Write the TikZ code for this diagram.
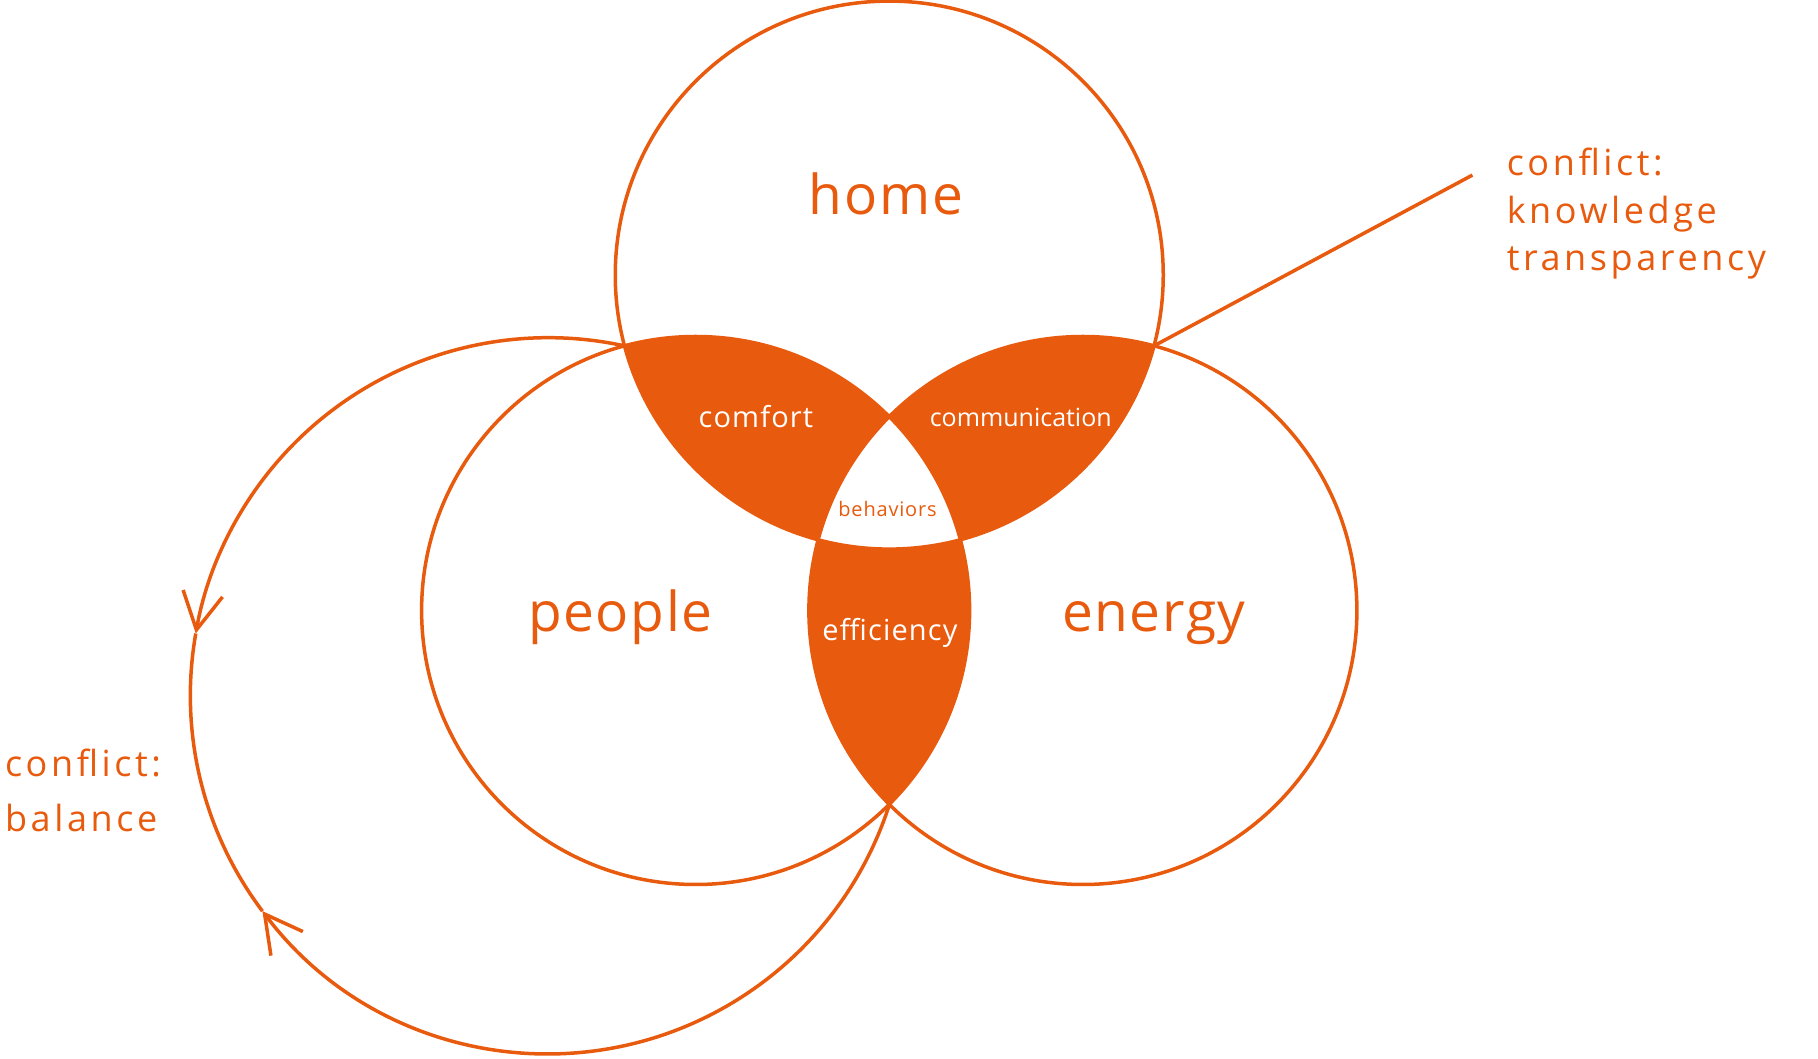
\documentclass[tikz,border=0pt]{standalone}
\usepackage{fontspec}
\setmainfont{Open Sans}
\newfontfamily\topicfont{Open Sans}[LetterSpace=3]
\newfontfamily\overlapfont{Open Sans}[LetterSpace=4]
\newfontfamily\conflictfont{Open Sans}[LetterSpace=10]
\usetikzlibrary{arrows.meta}
\definecolor{ember}{HTML}{E85A0D}

\begin{document}
\begin{tikzpicture}[x = 1pt, y = 1pt, line width = 3.5pt,
    ring/.style = {draw = ember},
    barb/.tip = {Straight Barb[length = 37pt, width = 40pt]},
    topic/.style = {font = \topicfont\fontsize{55}{60}\selectfont, text = ember, inner sep = 0pt},
    overlap/.style = {font = \overlapfont\fontsize{29}{34}\selectfont, text = white, inner sep = 0pt},
    conflict/.style = {font = \conflictfont\fontsize{36}{47.5}\selectfont, text = ember,
                       align = left, inner sep = 0pt}]
  \useasboundingbox (0,0) rectangle (1818,1058);
  \def\rad{274}
  % circle centres and crossings
  \coordinate (home) at (889.25,782.9);
  \coordinate (people) at (695.6,447.5);
  \coordinate (energy) at (1082.9,447.5);
  \coordinate (hp) at (624.6,712.1);
  \coordinate (he) at (1153.9,712.1);
  \coordinate (tail) at (1472.4,882.9);
  % pairwise overlaps
  \begin{scope}
    \clip (home) circle (\rad);
    \fill [ember] (people) circle (\rad);
    \fill [ember] (energy) circle (\rad);
  \end{scope}
  \begin{scope}
    \clip (people) circle (\rad);
    \fill [ember] (energy) circle (\rad);
  \end{scope}
  % centre stays white
  \begin{scope}
    \clip (home) circle (\rad);
    \clip (people) circle (\rad);
    \fill [white] (energy) circle (\rad);
  \end{scope}
  \draw [ring] (home) circle (\rad);
  \draw [ring] (people) circle (\rad);
  \draw [ring] (energy) circle (\rad);
  % outer loop
  \draw [ring, -barb] (hp) arc [start angle = 77.7, end angle = 170, radius = 358]
    coordinate (tipa);
  \draw [ring] (tipa) arc [start angle = 170, end angle = 217, radius = 358]
    coordinate (tipb);
  \draw [ring, barb-] (tipb) arc [start angle = 217, end angle = 342.55, radius = 358];
  \draw [ring] (he) -- (tail);
  % labels
  \node [topic, anchor = base] (homelbl) at (885.9,843) {home};
  \node [topic, anchor = base] (peoplelbl) at (620.3,426.3) {people};
  \node [topic, anchor = base] (energylbl) at (1153.8,426.3) {energy};
  \node [overlap, anchor = base] (comfortlbl) at (755.9,630) {comfort};
  \node [overlap, anchor = base, font = \fontsize{25}{30}\selectfont]
    (commlbl) at (1020.8,631.3) {communication};
  \node [overlap, anchor = base] (efficlbl) at (890,417) {efficiency};
  \node [overlap, anchor = base, text = ember, font = \overlapfont\fontsize{20}{24}\selectfont]
    (behavlbl) at (887.5,541.3) {behaviors};
  \node [conflict, anchor = base west] (knowlbl) at (1505,787.3)
    {conflict:\\knowledge\\transparency};
  \node [conflict, anchor = base west, font = \conflictfont\fontsize{36}{55}\selectfont]
    (balancelbl) at (3.3,226.3) {conflict:\\balance};
\end{tikzpicture}
\end{document}
